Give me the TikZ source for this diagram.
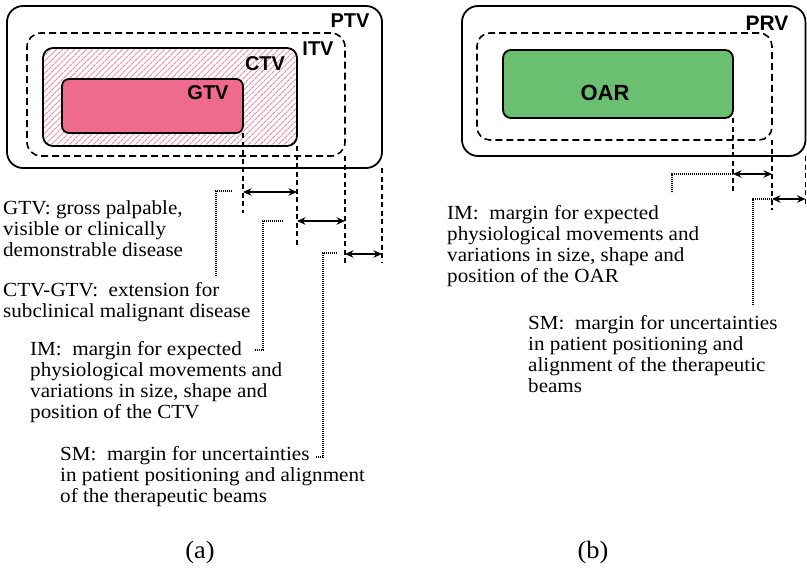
\documentclass[tikz,border=0pt]{standalone}
\usepackage{fontspec}
\setmainfont{Liberation Serif}[FakeStretch=1.055]
\newfontfamily\labfont{Liberation Sans}
\usetikzlibrary{arrows.meta,patterns.meta}
\definecolor{gtvpink}{RGB}{238,106,142}
\definecolor{hatchpink}{RGB}{240,135,165}
\definecolor{oargreen}{RGB}{106,191,112}
\begin{document}
\begin{tikzpicture}[x=1pt,y=-1pt,
  vol/.style={draw=black, line width=1.8pt, inner sep=0pt, outer sep=0pt, anchor=north west},
  itvline/.style={line width=1.6pt, dash pattern=on 7pt off 4pt},
  extline/.style={line width=1.5pt, dash pattern=on 5pt off 3.5pt},
  lead/.style={line width=1.8pt, dash pattern=on 1.2pt off 0.8pt},
  dim/.style={line width=1.8pt, {Stealth[length=8.5pt,width=7.5pt]}-{Stealth[length=8.5pt,width=7.5pt]}},
  lab/.style={font=\labfont\bfseries\fontsize{20}{24}\selectfont, inner sep=0pt},
  txt/.style={font=\fontsize{20}{20.8}\selectfont, align=left, inner sep=0pt, anchor=base west},
  captxt/.style={font=\fontsize{25}{25}\selectfont, inner sep=0pt},
]
\useasboundingbox (0,0) rectangle (807,571);

% ---------- panel (a) ----------
\node[vol, rounded corners=16pt, minimum width=375pt, minimum height=162pt] (ptv) at (7,6) {};
\node[vol, itvline, rounded corners=14pt, minimum width=318pt, minimum height=123pt] (itv) at (27,33) {};
\node[vol, rounded corners=10pt, pattern={Lines[angle=45,distance=4pt,line width=1.1pt]}, pattern color=hatchpink, minimum width=254pt, minimum height=98pt] (ctv) at (43,48) {};
\node[vol, rounded corners=7pt, fill=gtvpink, minimum width=181pt, minimum height=54pt] (gtv) at (62,79) {};

\node[lab] (ptvl) at (350,21) {PTV};
\node[lab] (itvl) at (318,49) {ITV};
\node[lab] (ctvl) at (265,63.5) {CTV};
\node[lab] (gtvl) at (208,93) {GTV};

\coordinate (ge) at (243,213);
\coordinate (ce) at (297,247);
\coordinate (ie) at (345,266);
\coordinate (pe) at (382,262);
\draw[extline] (gtv.south east) -- (ge);
\draw[extline] (ctv.south east) -- (ce);
\draw[extline] (itv.south east) -- (ie);
\draw[extline] (ptv.south east) -- (pe);

\coordinate (a1l) at (243,192); \coordinate (a1r) at (297,192);
\coordinate (a2l) at (297,221); \coordinate (a2r) at (345,221);
\coordinate (a3l) at (345,254); \coordinate (a3r) at (382,254);
\draw[dim] (a1l) -- (a1r);
\draw[dim] (a2l) -- (a2r);
\draw[dim] (a3l) -- (a3r);

% anchor = baseline of the last line
\node[txt] (tgtv) at (3,256) {GTV: gross palpable,\\visible or clinically\\demonstrable disease};
\node[txt] (tctv) at (3,317) {CTV-GTV:\ \ extension for\\subclinical malignant disease};
\node[txt] (tim) at (30,418) {IM:\ \ margin for expected\\physiological movements and\\variations in size, shape and\\position of the CTV};
\node[txt] (tsm) at (60,502) {SM:\ \ margin for uncertainties\\in patient positioning and alignment\\of the therapeutic beams};

\coordinate (l1a) at (232,191); \coordinate (l1b) at (216,191); \coordinate (l1c) at (216,277);
\coordinate (l2a) at (283,221); \coordinate (l2b) at (263,221); \coordinate (l2c) at (263,350); \coordinate (l2d) at (254,350);
\coordinate (l3a) at (337,253); \coordinate (l3b) at (323,253); \coordinate (l3c) at (323,457); \coordinate (l3d) at (316,457);
\draw[lead] (l1a) -- (l1b) -- (l1c);
\draw[lead] (l2a) -- (l2b) -- (l2c) -- (l2d);
\draw[lead] (l3a) -- (l3b) -- (l3c) -- (l3d);

% ---------- panel (b) ----------
\node[vol, rounded corners=16pt, minimum width=343.5pt, minimum height=150pt] (prv) at (462,6) {};
\node[vol, itvline, rounded corners=13pt, minimum width=295pt, minimum height=107pt] (imb) at (477,33) {};
\node[vol, rounded corners=8pt, fill=oargreen, minimum width=230pt, minimum height=68pt] (oar) at (503,50) {};

\node[lab, font=\labfont\bfseries\fontsize{21}{24}\selectfont] (prvl) at (767,23) {PRV};
\node[lab, font=\labfont\bfseries\fontsize{22}{24}\selectfont] (oarl) at (605,93) {OAR};

\coordinate (oe) at (733,192);
\coordinate (me) at (772,210);
\coordinate (re) at (805.5,207);
\draw[extline] (oar.south east) -- (oe);
\draw[extline] (imb.south east) -- (me);
\draw[extline] (prv.south east) -- (re);

\coordinate (b1l) at (733,174); \coordinate (b1r) at (772,174);
\coordinate (b2l) at (772,199); \coordinate (b2r) at (805.5,199);
\draw[dim] (b1l) -- (b1r);
\draw[dim] (b2l) -- (b2r);

\coordinate (m1a) at (733,174); \coordinate (m1b) at (672,174); \coordinate (m1c) at (672,193);
\coordinate (m2a) at (772,199); \coordinate (m2b) at (753,199); \coordinate (m2c) at (753,305);
\draw[lead] (m1a) -- (m1b) -- (m1c);
\draw[lead] (m2a) -- (m2b) -- (m2c);

\node[txt] (bim) at (447,282) {IM:\ \ margin for expected\\physiological movements and\\variations in size, shape and\\position of the OAR};
\node[txt] (bsm) at (528,392) {SM:\ \ margin for uncertainties\\in patient positioning and\\alignment of the therapeutic\\beams};

\node[captxt] (capa) at (200,552) {(a)};
\node[captxt] (capb) at (593,552) {(b)};
\end{tikzpicture}
\end{document}
